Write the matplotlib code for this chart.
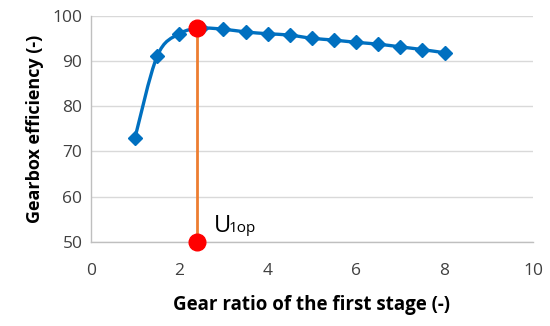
import matplotlib
matplotlib.use("Agg")
import matplotlib.pyplot as plt
import numpy as np
from matplotlib.path import Path
from matplotlib.patches import PathPatch

plt.rcParams['font.family'] = ['Open Sans', 'DejaVu Sans']

ratio = [1, 1.5, 2, 2.5, 3, 3.5, 4, 4.5, 5, 5.5, 6, 6.5, 7, 7.5, 8]
efficiency = [73, 91, 96, 97.2, 97.0, 96.4, 96.0, 95.7, 95.0, 94.6, 94.1, 93.7, 93.1, 92.5, 91.8]
opt_x = [2.4, 2.4]
opt_y = [97.2, 50]
xticks = [0, 2, 4, 6, 8, 10]
yticks = [50, 60, 70, 80, 90, 100]

fig = plt.figure(figsize=(5.5, 3.26), dpi=100)
ax = fig.add_axes([0.165, 0.258, 0.804, 0.694])

# smooth line (Catmull-Rom -> Bezier), like a spreadsheet smoothed line
xs = np.array(ratio, float); ys = np.array(efficiency, float)
verts = [(xs[0], ys[0])]; codes = [Path.MOVETO]
for i in range(len(xs) - 1):
    p0 = np.array([xs[max(i-1, 0)], ys[max(i-1, 0)]])
    p1 = np.array([xs[i], ys[i]])
    p2 = np.array([xs[i+1], ys[i+1]])
    p3 = np.array([xs[min(i+2, len(xs)-1)], ys[min(i+2, len(xs)-1)]])
    c1 = p1 + (p2 - p0) / 6.0
    c2 = p2 - (p3 - p1) / 6.0
    verts += [tuple(c1), tuple(c2), tuple(p2)]
    codes += [Path.CURVE4] * 3
ax.add_patch(PathPatch(Path(verts, codes), facecolor='none', edgecolor='#0070C0', lw=2.4, zorder=3))
ax.plot(ratio, efficiency, linestyle='none', marker='D', markersize=7, color='#0070C0', zorder=4)

ax.plot(opt_x, opt_y, color='#ED7D31', lw=2, zorder=5, clip_on=False)
ax.plot(opt_x, opt_y, linestyle='none', marker='o', markersize=12, color='#FF0000', zorder=6, clip_on=False)

ax.text(2.78, 52.2, 'U', fontsize=17, color='black', va='baseline', ha='left')
ax.text(3.12, 52.2, '1op', fontsize=11, color='black', va='baseline', ha='left')

ax.set_xlim(0, 10)
ax.set_ylim(50, 100)
ax.set_xticks(xticks)
ax.set_yticks(yticks)
ax.tick_params(length=0, labelsize=12.5, colors='#404040')
ax.tick_params(axis='x', pad=15)
ax.tick_params(axis='y', pad=6)
ax.grid(axis='y', color='#D9D9D9', lw=1)
ax.set_axisbelow(True)
for s in ['top', 'right']:
    ax.spines[s].set_visible(False)
for s in ['left', 'bottom']:
    ax.spines[s].set_color('#BFBFBF')
    ax.spines[s].set_linewidth(1)
ax.set_xlabel('Gear ratio of the first stage (-)', fontsize=13.5, fontweight='bold', labelpad=12)
ax.set_ylabel('Gearbox efficiency (-)', fontsize=13, fontweight='bold', labelpad=6)

fig.savefig('out.png', dpi=100)
